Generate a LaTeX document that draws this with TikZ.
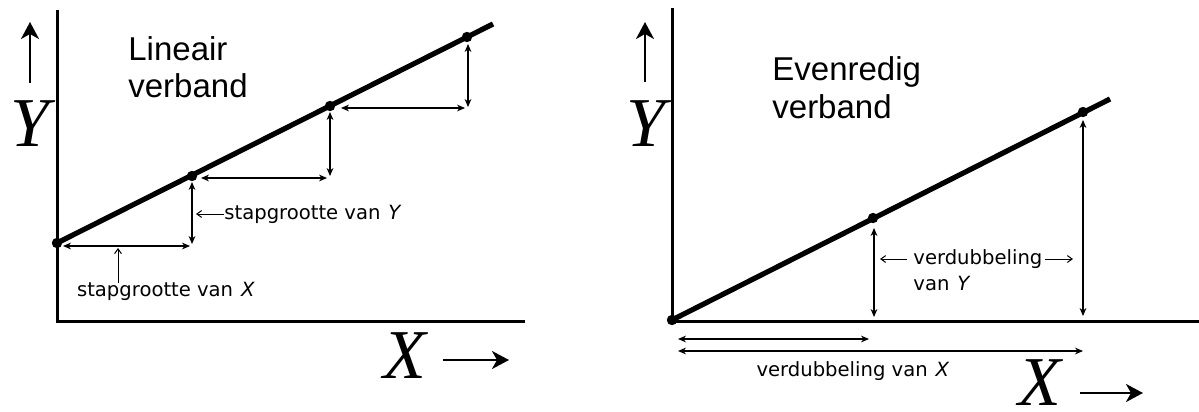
\documentclass[tikz,border=0pt]{standalone}
\usepackage{fontspec}
\setmainfont{Liberation Serif}
\newfontfamily\labfont{DejaVu Sans}
\newfontfamily\titfont{Liberation Sans}
\usetikzlibrary{arrows.meta}
\tikzset{
  axisline/.style={line width=1.5pt},
  dataline/.style={line width=2.6pt},
  dimarrow/.style={line width=0.55pt,{Stealth[length=4pt,width=3.4pt]}-{Stealth[length=4pt,width=3.4pt]}},
  ptr/.style={line width=0.5pt,-{Straight Barb[length=2.4pt,width=3.4pt]}},
  bigarrow/.style={line width=1.2pt,-{Stealth[length=8.5pt,width=9pt,inset=2.5pt]}},
  lab/.style={font=\labfont\fontsize{9.8}{12}\selectfont,inner sep=0pt},
  tit/.style={font=\titfont\fontsize{16.5}{18.5}\selectfont,inner sep=0pt,anchor=base west},
  var/.style={font=\fontsize{35}{40}\selectfont\itshape,inner sep=0pt},
  dot/.style={circle,fill=black,inner sep=0pt,minimum size=5.2pt}
}
\begin{document}
\begin{tikzpicture}[x=0.5pt,y=-0.5pt]
\useasboundingbox (0,0) rectangle (1199,412);
% ---------- left plot ----------
\coordinate (LaxTop) at (57,10);
\coordinate (Lorig) at (57,321);
\coordinate (LaxRight) at (525,321);
\draw[axisline] (LaxTop) -- (Lorig) -- (LaxRight);
\node[dot] (L0) at (57,243) {};
\node[dot] (L1) at (192,176) {};
\node[dot] (L2) at (330,106) {};
\node[dot] (L3) at (467,37) {};
\coordinate (Lend) at (493,24);
\draw[dataline] (L0.center) -- (Lend);
% step arrows
\coordinate (h1a) at (63,246); \coordinate (h1b) at (190,246);
\coordinate (v1a) at (192,182); \coordinate (v1b) at (192,244);
\coordinate (h2a) at (201,178); \coordinate (h2b) at (327,178);
\coordinate (v2a) at (330,112); \coordinate (v2b) at (330,176);
\coordinate (h3a) at (341,108); \coordinate (h3b) at (465,108);
\coordinate (v3a) at (468,44); \coordinate (v3b) at (468,107);
\draw[dimarrow] (h1a) -- (h1b);
\draw[dimarrow] (v1a) -- (v1b);
\draw[dimarrow] (h2a) -- (h2b);
\draw[dimarrow] (v2a) -- (v2b);
\draw[dimarrow] (h3a) -- (h3b);
\draw[dimarrow] (v3a) -- (v3b);
% labels
\node[lab,anchor=west] (stapY) at (224,214) {stapgrootte van\hspace{4pt}\textit{Y}};
\coordinate (stapYtip) at (196,214);
\draw[ptr] (stapY.west) -- (stapYtip);
\node[lab] (stapX) at (166,291) {stapgrootte van\hspace{4pt}\textit{X}};
\coordinate (stapXtip) at (118,248);
\coordinate (stapXfoot) at (118,283);
\draw[ptr] (stapXfoot) -- (stapXtip);
\node[tit] (lin1) at (128,60) {Lineair};
\node[tit] (lin2) at (128,97) {verband};
% axis labels
\node[var] (LY) at (30,124) {Y};
\coordinate (LYa) at (30,83); \coordinate (LYb) at (30,22);
\draw[bigarrow] (LYa) -- (LYb);
\node[var] (LX) at (405,356) {X};
\coordinate (LXa) at (443,360); \coordinate (LXb) at (509,360);
\draw[bigarrow] (LXa) -- (LXb);
% ---------- right plot ----------
\coordinate (RaxTop) at (672,8);
\coordinate (Rorig) at (672,321);
\coordinate (RaxRight) at (1199,321);
\draw[axisline] (RaxTop) -- (Rorig) -- (RaxRight);
\node[dot] (R0) at (672,320) {};
\node[dot] (R1) at (873,218) {};
\node[dot] (R2) at (1083,112) {};
\coordinate (Rend) at (1110,99);
\draw[dataline] (R0.center) -- (Rend);
\coordinate (rv1a) at (874,228); \coordinate (rv1b) at (874,317);
\coordinate (rv2a) at (1083,120); \coordinate (rv2b) at (1083,316);
\coordinate (rh1a) at (678,339); \coordinate (rh1b) at (869,339);
\coordinate (rh2a) at (678,351); \coordinate (rh2b) at (1083,351);
\draw[dimarrow] (rv1a) -- (rv1b);
\draw[dimarrow] (rv2a) -- (rv2b);
\draw[dimarrow] (rh1a) -- (rh1b);
\draw[dimarrow] (rh2a) -- (rh2b);
\node[lab] (verdX) at (853,371) {verdubbeling van\hspace{4pt}\textit{X}};
\node[lab,anchor=west] (verdY1) at (913,259) {verdubbeling};
\node[lab,anchor=base west] (verdY2) at (913,290) {van\hspace{4pt}\textit{Y}};
\coordinate (vYl) at (880,259); \coordinate (vYr) at (1073,259);
\coordinate (vYls) at (907,259); \coordinate (vYrs) at (1045,259);
\draw[ptr] (vYls) -- (vYl);
\draw[ptr] (vYrs) -- (vYr);
\node[tit] (ev1) at (772,80) {Evenredig};
\node[tit] (ev2) at (772,118) {verband};
\node[var] (RY) at (646,124) {Y};
\coordinate (RYa) at (645,82); \coordinate (RYb) at (645,22);
\draw[bigarrow] (RYa) -- (RYb);
\node[var] (RX) at (1040,383) {X};
\coordinate (RXa) at (1080,393); \coordinate (RXb) at (1143,393);
\draw[bigarrow] (RXa) -- (RXb);
\end{tikzpicture}
\end{document}
